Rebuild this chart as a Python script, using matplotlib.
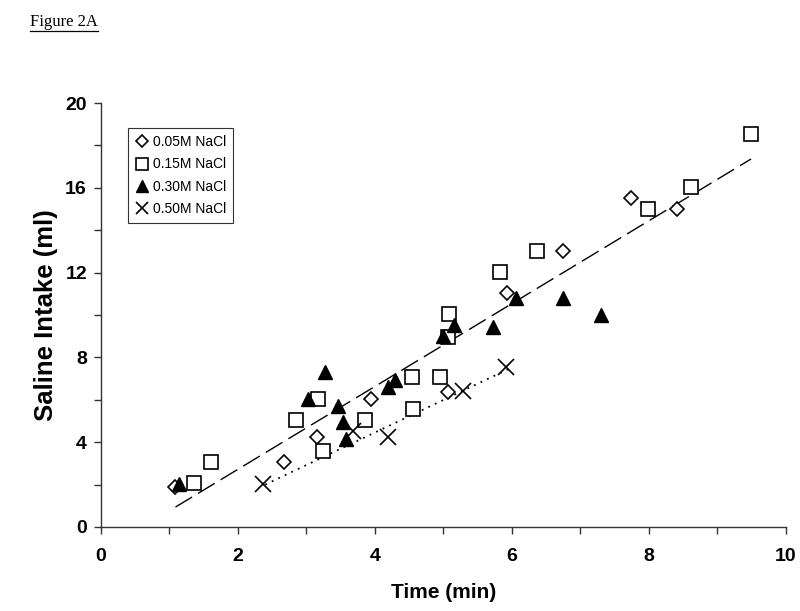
import numpy as np
import matplotlib
matplotlib.use("Agg")
import matplotlib.pyplot as plt
from matplotlib.lines import Line2D

# data
x_005 = [1.08, 2.67, 3.15, 3.94, 5.07, 5.93, 6.74, 7.74, 8.41]
y_005 = [1.89, 3.07, 4.25, 6.04, 6.37, 11.04, 13.02, 15.52, 15.0]

x_015 = [1.36, 1.61, 2.85, 3.17, 3.24, 3.85, 4.54, 4.55, 4.95, 5.07, 5.08, 5.82, 6.36, 7.99, 8.61, 9.49]
y_015 = [2.08, 3.07, 5.05, 6.04, 3.58, 5.05, 7.08, 5.57, 7.08, 8.96, 10.05, 12.03, 13.02, 15.0, 16.04, 18.54]

x_030 = [1.14, 3.02, 3.27, 3.46, 3.53, 3.58, 4.19, 4.29, 4.99, 5.15, 5.72, 6.06, 6.74, 7.30]
y_030 = [2.03, 6.04, 7.31, 5.71, 4.95, 4.15, 6.6, 6.93, 9.0, 9.53, 9.43, 10.8, 10.8, 10.0]

x_050 = [2.36, 3.68, 4.19, 5.28, 5.91]
y_050 = [2.03, 4.53, 4.25, 6.42, 7.55]

# trend lines (end points)
fit_all_x = [1.09, 9.49]
fit_all_y = [0.94, 17.36]
fit_050_x = [2.4, 5.95]
fit_050_y = [2.0, 7.45]

labels = ["0.05M NaCl", "0.15M NaCl", "0.30M NaCl", "0.50M NaCl"]

fig = plt.figure(figsize=(8, 6.11), dpi=100)
ax = fig.add_axes([0.126, 0.1375, 0.8565, 0.6939])

ax.plot(fit_all_x, fit_all_y, color="black", lw=1.0, dashes=(14, 5), zorder=1)
ax.plot(fit_050_x, fit_050_y, color="black", lw=1.3, dashes=(1, 3), zorder=1)

ax.plot(x_005, y_005, ls="none", marker="D", ms=7, mfc="white", mec="black", mew=1.2, label=labels[0], zorder=3)
ax.plot(x_015, y_015, ls="none", marker="s", ms=10, mfc="white", mec="black", mew=1.2, label=labels[1], zorder=2)
ax.plot(x_030, y_030, ls="none", marker="^", ms=10, mfc="black", mec="black", label=labels[2], zorder=4)
ax.plot(x_050, y_050, ls="none", marker="x", ms=11, mec="black", mew=1.2, label=labels[3], zorder=4)

ax.set_xlim(0, 10)
ax.set_ylim(0, 20)
ax.set_xticks(range(0, 11, 2))
ax.set_xticks(range(1, 10, 2), minor=True)
ax.set_yticks(range(0, 21, 4))
ax.set_yticks(range(2, 20, 4), minor=True)

for s in ["top", "right"]:
    ax.spines[s].set_visible(False)
for s in ["left", "bottom"]:
    ax.spines[s].set_color("#333333")
    ax.spines[s].set_linewidth(1.0)

ax.tick_params(which="both", direction="out", length=5, width=1, color="#333333")
narrow = ["Liberation Sans Narrow", "Liberation Sans", "DejaVu Sans"]
for t in ax.get_xticklabels():
    t.set_family(narrow)
    t.set_fontweight("bold")
    t.set_fontsize(14)
for t in ax.get_yticklabels():
    t.set_family(narrow)
    t.set_fontweight("bold")
    t.set_fontsize(14)
ax.tick_params(axis="x", pad=10)
ax.tick_params(axis="y", pad=5)

ax.set_xlabel("Time (min)", family=narrow, fontweight="bold", fontsize=15, labelpad=13)
ax.set_ylabel("Saline Intake (ml)", family=["Liberation Sans", "DejaVu Sans"], fontweight="bold", fontsize=18.5, labelpad=5)

leg = ax.legend(loc="upper left", bbox_to_anchor=(0.03, 0.957), frameon=True, fancybox=False,
                edgecolor="black", handletextpad=0.25, handlelength=1.0, borderpad=0.5,
                labelspacing=0.6, prop={"family": ["Liberation Sans", "DejaVu Sans"], "size": 10})
leg.get_frame().set_linewidth(0.8)
for h, ms in zip(leg.legend_handles, [6, 8.5, 9, 9]):
    h.set_markersize(ms)

# "Figure 2A" caption with underline
cap = fig.text(0.0375, 0.957, "Figure 2A", family=["Liberation Serif", "DejaVu Serif"], fontsize=12, va="baseline")
fig.canvas.draw()
bb = cap.get_window_extent().transformed(fig.transFigure.inverted())
fig.add_artist(Line2D([bb.x0, bb.x1], [bb.y0 - 0.002, bb.y0 - 0.002], color="black", lw=0.9, transform=fig.transFigure))

fig.savefig("out.png", dpi=100)
